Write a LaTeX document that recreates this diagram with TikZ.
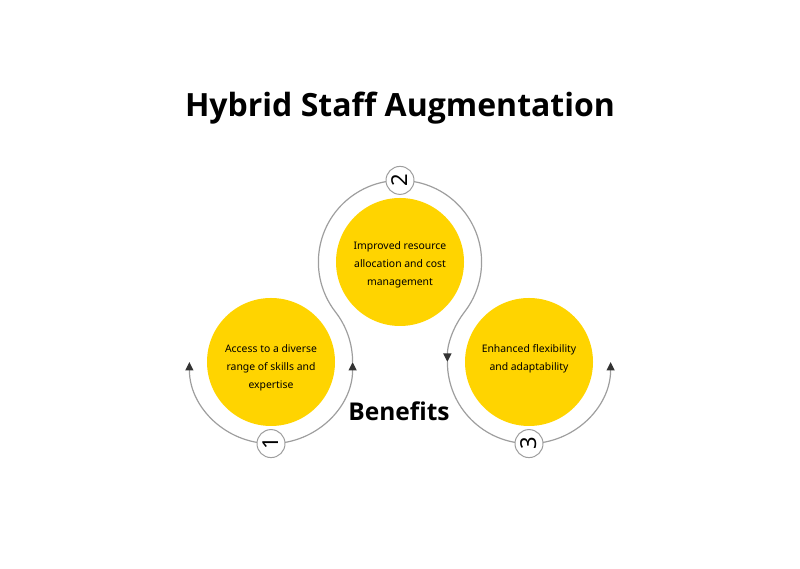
\documentclass[tikz,border=0pt]{standalone}
\usepackage{fontspec}
\setmainfont{Noto Sans}
\newfontfamily\headfont{Open Sans}
\usetikzlibrary{arrows.meta}
\definecolor{sunyellow}{HTML}{FFD400}
\definecolor{ringgray}{HTML}{9E9E9E}
\definecolor{tipdark}{HTML}{333333}
\tikzset{
  blob/.style={circle, fill=sunyellow, minimum size=128pt, inner sep=0pt},
  blobtext/.style={align=center, inner sep=0pt, anchor=north, font=\fontsize{10.4}{18}\selectfont},
  ring/.style={draw=ringgray, line width=1.2pt},
  tipend/.style={-{Triangle[width=8pt,length=8.5pt,color=tipdark]}},
  numbadge/.style={circle, draw=ringgray, line width=1pt, fill=white, minimum size=28pt, inner sep=0pt, font=\fontsize{22}{22}\selectfont},
}
\begin{document}
\begin{tikzpicture}[x=1pt,y=1pt]
\useasboundingbox (0,0) rectangle (800,569);
\def\R{81.6}
\coordinate (c1) at (271,207);
\coordinate (c2) at (400,307);
\coordinate (c3) at (529,207);

\node[blob] (b1) at (c1) {};
\node[blob] (b2) at (c2) {};
\node[blob] (b3) at (c3) {};

% ring path pieces
\draw[ring, tipend] ([shift={(270:\R)}]c1) arc[start angle=270, end angle=180, radius=\R];
\draw[ring, tipend] ([shift={(270:\R)}]c1) arc[start angle=270, end angle=360, radius=\R];
\draw[ring] ([shift={(0:\R)}]c1) arc[start angle=0, end angle=37.78, radius=\R]
   arc[start angle=217.78, end angle=-37.78, radius=\R];
\draw[ring, tipend] ([shift={(142.22:\R)}]c3) arc[start angle=142.22, end angle=180, radius=\R];
\draw[ring] ([shift={(180:\R)}]c3) arc[start angle=180, end angle=270, radius=\R];
\draw[ring, tipend] ([shift={(270:\R)}]c3) arc[start angle=270, end angle=360, radius=\R];

\node[numbadge] (n1) at ([shift={(270:\R)}]c1) {\rotatebox{90}{1}};
\node[numbadge] (n2) at ([shift={(90:\R)}]c2) {\rotatebox{90}{2}};
\node[numbadge] (n3) at ([shift={(270:\R)}]c3) {\rotatebox{90}{3}};

\node[blobtext] (t1) at (271,225) {Access to a diverse\\range of skills and\\expertise};
\node[blobtext] (t2) at (400,328) {Improved resource\\allocation and cost\\management};
\node[blobtext] (t3) at (529,225) {Enhanced flexibility\\and adaptability};

\node[anchor=base, font=\headfont\bfseries\fontsize{32}{34}\selectfont] (title) at (400,452) {Hybrid Staff Augmentation};
\node[anchor=base, font=\headfont\bfseries\fontsize{24.5}{26}\selectfont] (ben) at (399,148) {Benefits};
\end{tikzpicture}
\end{document}
